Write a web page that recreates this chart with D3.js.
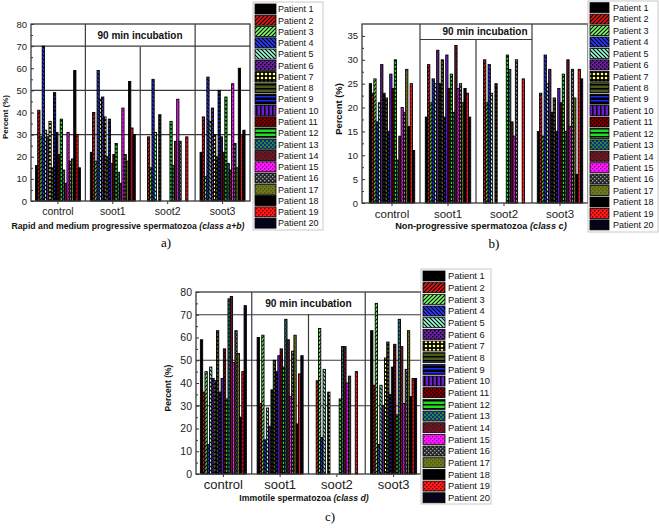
<!DOCTYPE html>
<html><head><meta charset="utf-8">
<script src="https://cdn.jsdelivr.net/npm/d3@7"></script>
<style>body{margin:0;background:#fff}text{font-family:"Liberation Sans",Arial,sans-serif}</style>
</head><body>
<svg id="chart" width="659" height="528"></svg>
<script>
const groups = ["control","soot1","soot2","soot3"];
const patients = d3.range(1,21).map(i=>"Patient "+i);
const ticksAB = [0,10,20,30,40,50,60,70,80];
const ticksC = [0,5,10,15,20,25,30,35];
const ticksD = [0,10,20,30,40,50,60,70,80];

// Rapid and medium progressive (class a+b)
const abControl = [16,41,29,70,32,29,36,15,49,31,21,37,14,8,31,18,19,59,30,15];
const abSoot1   = [22,40,18,59,46,47,38,20,37,17,21,26,13,8,42,21,18,54,33,30];
const abSoot2   = [null,29,15,55,31,null,39,null,null,null,null,36,16,27,46,27,null,null,29,null];
const abSoot3   = [22,38,11,56,36,42,30,20,50,29,22,47,17,14,53,26,15,60,30,32];
// Non-progressive (class c)
const cControl = [25,23,26,17,21,29,23,22,15,27,24,30,9,14,20,19,28,16,25,11];
const cSoot1   = [18,29,21,26,25,32,25,30,18,31,24,27,19,33,24,25,21,24,23,18];
const cSoot2   = [null,30,21,29,23,null,25,null,null,null,null,31,28,17,14,30,null,null,26,null];
const cSoot3   = [15,23,14,31,25,28,19,22,15,24,21,27,15,30,16,28,22,6,28,26];
// Immotile (class d)
const dControl = [59,36,45,13,47,42,41,63,36,42,55,33,77,78,49,63,53,25,45,74];
const dSoot1   = [60,31,61,15,29,21,37,50,45,52,55,47,68,59,34,54,61,22,44,52];
const dSoot2   = [null,41,64,16,46,null,36,null,null,null,null,33,56,56,40,43,null,null,45,null];
const dSoot3   = [63,39,75,13,39,30,51,58,35,47,57,26,68,56,31,46,63,34,42,42];

const svg = d3.select("#chart");
const defs = svg.append("defs");

// fill styles per patient
const patternSpecs = [
  {bg:"#000000"},
  {bg:"#e81818", kind:"diag", fg:"#000"},
  {bg:"#7dff6a", kind:"diag", fg:"#000"},
  {bg:"#2a3cff", kind:"back", fg:"#000"},
  {bg:"#9dffd8", kind:"back", fg:"#000"},
  {bg:"#6a1fa0", kind:"dots", fg:"#000"},
  {bg:"#000000", kind:"circ", fg:"#ffff88"},
  {bg:"#4b5a1e", kind:"hline", fg:"#000"},
  {bg:"#000000", kind:"hline", fg:"#1a2cff"},
  {bg:"#6b1bd0", kind:"vline", fg:"#000"},
  {bg:"#7a0000", kind:"dots", fg:"#000"},
  {bg:"#22dd22", kind:"hline", fg:"#000"},
  {bg:"#1f8a3a", kind:"cross", fg:"#1a2a80"},
  {bg:"#6a1a24", kind:"dots", fg:"#3a0a10"},
  {bg:"#ff1aff", kind:"dots", fg:"#900090"},
  {bg:"#262626", kind:"dots", fg:"#9aa4a8"},
  {bg:"#6f7a1e", kind:"dots", fg:"#4a5210"},
  {bg:"#000000"},
  {bg:"#ff1a1a", kind:"dots", fg:"#600"},
  {bg:"#05051a"}
];
patternSpecs.forEach((s,i)=>{
  const p = defs.append("pattern").attr("id","p"+(i+1)).attr("patternUnits","userSpaceOnUse")
    .attr("width",4).attr("height",4);
  p.append("rect").attr("width",4).attr("height",4).attr("fill",s.bg);
  if(s.kind==="diag") p.append("path").attr("d","M-1,1L1,-1M0,4L4,0M3,5L5,3").attr("stroke",s.fg).attr("stroke-width",1.1);
  if(s.kind==="back") p.append("path").attr("d","M-1,3L1,5M0,0L4,4M3,-1L5,1").attr("stroke",s.fg).attr("stroke-width",1.1);
  if(s.kind==="dots"){ p.append("rect").attr("x",0).attr("y",0).attr("width",1.4).attr("height",1.4).attr("fill",s.fg);
                       p.append("rect").attr("x",2).attr("y",2).attr("width",1.4).attr("height",1.4).attr("fill",s.fg);}
  if(s.kind==="circ") p.append("circle").attr("cx",2).attr("cy",2).attr("r",1.3).attr("fill",s.fg);
  if(s.kind==="hline") p.append("rect").attr("x",0).attr("y",0).attr("width",4).attr("height",1.5).attr("fill",s.fg);
  if(s.kind==="vline") p.append("rect").attr("x",0).attr("y",0).attr("width",1.5).attr("height",4).attr("fill",s.fg);
  if(s.kind==="cross"){ p.append("rect").attr("width",2).attr("height",2).attr("fill",s.fg);
                        p.append("rect").attr("x",2).attr("y",2).attr("width",2).attr("height",2).attr("fill",s.fg);}
});

function panel(cfg){
  const g = svg.append("g");
  const x = d3.scaleBand().domain(groups).range([cfg.bandL, cfg.bandR]);
  const xp = d3.scaleBand().domain(patients).range([0, x.bandwidth()]).paddingOuter(cfg.po).paddingInner(0);
  const y = d3.scaleLinear().domain([0, cfg.max]).range([cfg.bottom, cfg.top]);
  const lineCol = "#3a3a3a";
  cfg.grid.forEach(v=>{
    g.append("line").attr("x1",cfg.left).attr("x2",cfg.right).attr("y1",y(v)).attr("y2",y(v))
      .attr("stroke",lineCol).attr("stroke-width",1.2);
  });
  const b1 = x("soot1"), b2 = x("soot2"), b3 = x("soot3");
  const boxBottom = cfg.boxBottom;
  if(cfg.boxLine){
    g.append("line").attr("x1",b1).attr("x2",b3).attr("y1",boxBottom).attr("y2",boxBottom)
      .attr("stroke",lineCol).attr("stroke-width",1.2);
  }
  [[b1,cfg.top],[b2,boxBottom],[b3,cfg.top]].forEach(([xx,yy])=>{
    g.append("line").attr("x1",xx).attr("x2",xx).attr("y1",yy).attr("y2",cfg.bottom)
      .attr("stroke",lineCol).attr("stroke-width",1.2);
  });
  cfg.series.forEach((vals,gi)=>{
    const gx = x(groups[gi]);
    g.append("g").selectAll("rect").data(vals.map((v,i)=>({v,i})).filter(d=>d.v!=null))
      .join("rect")
      .attr("x",d=>gx + xp(patients[d.i]))
      .attr("width",xp.bandwidth())
      .attr("y",d=>y(d.v))
      .attr("height",d=>y(0)-y(d.v))
      .attr("fill",d=>"url(#p"+(d.i+1)+")")
      .attr("stroke","#000").attr("stroke-width",0.9);
  });
  g.append("rect").attr("x",cfg.left).attr("y",cfg.top).attr("width",cfg.right-cfg.left).attr("height",cfg.bottom-cfg.top)
    .attr("fill","none").attr("stroke",lineCol).attr("stroke-width",1.3);
  g.append("text").attr("x",cfg.titleX).attr("y",(cfg.top+boxBottom)/2+3.5).attr("text-anchor","middle")
    .attr("font-size",cfg.boxFont).attr("font-weight","bold").attr("fill","#111").text("90 min incubation");
  const ya = g.append("g").attr("transform",`translate(${cfg.left},0)`)
    .call(d3.axisLeft(y).tickValues(cfg.ticks).tickSize(-3).tickPadding(4));
  ya.select(".domain").remove();
  ya.selectAll("line").attr("stroke","#333");
  ya.selectAll("text").attr("font-size",cfg.tickFont).attr("fill","#222").attr("font-family","Liberation Sans, Arial, sans-serif");
  const minor = g.append("g").attr("transform",`translate(${cfg.left},0)`)
    .call(d3.axisLeft(y).tickValues(cfg.minor).tickSize(-2).tickFormat(""));
  minor.select(".domain").remove();
  minor.selectAll("line").attr("stroke","#333");
  const xa = g.append("g").attr("transform",`translate(0,${cfg.bottom})`)
    .call(d3.axisBottom(x).tickSize(3).tickPadding(cfg.xPad));
  xa.select(".domain").remove();
  xa.selectAll("line").attr("stroke","#333");
  xa.selectAll("text").attr("font-size",cfg.catFont).attr("fill","#222").attr("font-family","Liberation Sans, Arial, sans-serif");
  g.append("text").attr("transform",`translate(${cfg.yTitleX},${cfg.yTitleY}) rotate(-90)`)
    .attr("text-anchor","middle").attr("font-size",cfg.yTitleFont).attr("font-weight","bold").attr("fill","#111")
    .text("Percent (%)");
  const t = g.append("text").attr("x",cfg.xTitleX).attr("y",cfg.xTitleY).attr("text-anchor","middle")
    .attr("font-size",cfg.xTitleFont).attr("font-weight","bold").attr("fill","#111");
  t.append("tspan").text(cfg.xTitle[0]);
  t.append("tspan").attr("font-style","italic").text(cfg.xTitle[1]);
  g.append("text").attr("x",cfg.letterX).attr("y",cfg.letterY).attr("text-anchor","middle")
    .attr("font-size",13).attr("style","font-family:'Liberation Serif','Times New Roman',serif").text(cfg.letter);
  const L = cfg.legend;
  g.append("rect").attr("x",L.bx).attr("y",L.by).attr("width",L.bw).attr("height",L.bh)
    .attr("fill","#fff").attr("stroke","#bbb").attr("stroke-width",0.8);
  patients.forEach((p,i)=>{
    const cy = L.y0 + i*L.dy;
    g.append("rect").attr("x",L.sx).attr("y",cy-L.sh/2).attr("width",L.sw).attr("height",L.sh)
      .attr("fill","url(#p"+(i+1)+")").attr("stroke","#000").attr("stroke-width",0.8);
    g.append("text").attr("x",L.tx).attr("y",cy+3.3).attr("font-size",L.font).attr("fill","#111").text(p);
  });
}

panel({
  left:31, right:250, top:24, bottom:201, bandL:30.5, bandR:250, po:2.2, max:80,
  series:[abControl,abSoot1,abSoot2,abSoot3], grid:[30,50,70], boxLine:false, boxBottom:47,
  ticks:ticksAB, minor:d3.range(5,80,10), tickFont:9.5, catFont:10.5, xPad:4, boxFont:10, titleX:140,
  yTitleX:8, yTitleY:117, yTitleFont:8,
  xTitle:["Rapid and medium progressive spermatozoa ","(class a+b)"], xTitleX:128, xTitleY:229, xTitleFont:8.7,
  letter:"a)", letterX:166, letterY:247,
  legend:{bx:253,by:2,bw:70,bh:228, sx:255, sw:21, sh:10, y0:9, dy:11.27, tx:278, font:9}
});
panel({
  left:362, right:588, top:24, bottom:203, bandL:364, bandR:588, po:2.33, max:37.5,
  series:[cControl,cSoot1,cSoot2,cSoot3], grid:[], boxLine:true, boxBottom:39.5,
  ticks:ticksC, minor:d3.range(2.5,37.5,5), tickFont:9.5, catFont:11.5, xPad:4, boxFont:10, titleX:485,
  yTitleX:342, yTitleY:109, yTitleFont:9.4,
  xTitle:["Non-progressive spermatozoa ","(class c)"], xTitleX:481, xTitleY:229, xTitleFont:9.2,
  letter:"b)", letterX:494, letterY:248,
  legend:{bx:588,by:1,bw:70,bh:231, sx:590, sw:19, sh:10, y0:7.7, dy:11.43, tx:613, font:9}
});
panel({
  left:196, right:421, top:292, bottom:474, bandL:195, bandR:422, po:2.34, max:80,
  series:[dControl,dSoot1,dSoot2,dSoot3], grid:[30,50,70], boxLine:false, boxBottom:314,
  ticks:ticksD, minor:d3.range(5,80,10), tickFont:10.5, catFont:13, xPad:3, boxFont:10.2, titleX:308.5,
  yTitleX:171, yTitleY:388, yTitleFont:8.5,
  xTitle:["Immotile spermatozoa ","(class d)"], xTitleX:304, xTitleY:501, xTitleFont:8.7,
  letter:"c)", letterX:330, letterY:521,
  legend:{bx:421,by:269,bw:70,bh:235, sx:423, sw:22, sh:10, y0:276, dy:11.67, tx:448, font:9.3}
});
</script>
</body></html>
